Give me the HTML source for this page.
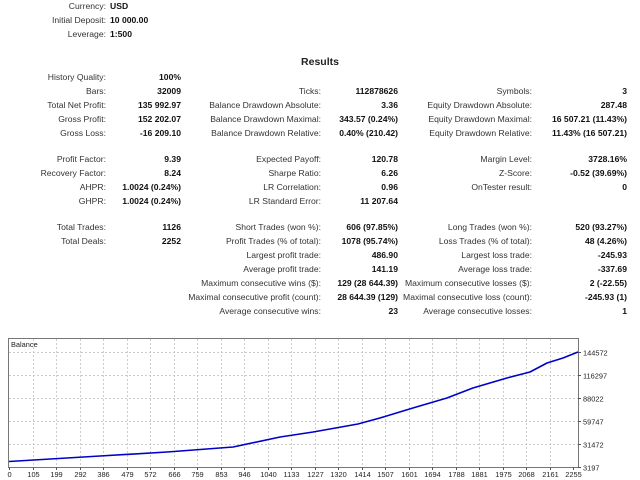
<!DOCTYPE html>
<html><head><meta charset="utf-8">
<style>
body{margin:0;width:640px;height:480px;background:#fff;font-family:"Liberation Sans",sans-serif;font-size:8.6px;color:#222;position:relative;overflow:hidden}
.l{position:absolute;text-align:right;white-space:nowrap;color:#333}
.v{position:absolute;text-align:right;white-space:nowrap;font-weight:bold;color:#111}
.vl{position:absolute;text-align:left;white-space:nowrap;font-weight:bold;color:#111}
#title{position:absolute;left:0;width:640px;top:56px;text-align:center;font-weight:bold;font-size:10.5px}
svg text{font-family:"Liberation Sans",sans-serif;font-size:7.4px;fill:#222}
</style></head><body>
<div id="title">Results</div>
<div id="rows"></div>
<svg id="chart" width="640" height="480" style="position:absolute;left:0;top:0"></svg>
<script>
const head=[["Currency:","USD"],["Initial Deposit:","10 000.00"],["Leverage:","1:500"]];
const headY=[7,21,35];
const rows=[
[78,"History Quality:","100%","","","",""],
[92,"Bars:","32009","Ticks:","112878626","Symbols:","3"],
[106,"Total Net Profit:","135 992.97","Balance Drawdown Absolute:","3.36","Equity Drawdown Absolute:","287.48"],
[120,"Gross Profit:","152 202.07","Balance Drawdown Maximal:","343.57 (0.24%)","Equity Drawdown Maximal:","16 507.21 (11.43%)"],
[134,"Gross Loss:","-16 209.10","Balance Drawdown Relative:","0.40% (210.42)","Equity Drawdown Relative:","11.43% (16 507.21)"],
[160,"Profit Factor:","9.39","Expected Payoff:","120.78","Margin Level:","3728.16%"],
[174,"Recovery Factor:","8.24","Sharpe Ratio:","6.26","Z-Score:","-0.52 (39.69%)"],
[188,"AHPR:","1.0024 (0.24%)","LR Correlation:","0.96","OnTester result:","0"],
[202,"GHPR:","1.0024 (0.24%)","LR Standard Error:","11 207.64","",""],
[228,"Total Trades:","1126","Short Trades (won %):","606 (97.85%)","Long Trades (won %):","520 (93.27%)"],
[242,"Total Deals:","2252","Profit Trades (% of total):","1078 (95.74%)","Loss Trades (% of total):","48 (4.26%)"],
[256,"","","Largest profit trade:","486.90","Largest loss trade:","-245.93"],
[270,"","","Average profit trade:","141.19","Average loss trade:","-337.69"],
[284,"","","Maximum consecutive wins ($):","129 (28 644.39)","Maximum consecutive losses ($):","2 (-22.55)"],
[298,"","","Maximal consecutive profit (count):","28 644.39 (129)","Maximal consecutive loss (count):","-245.93 (1)"],
[312,"","","Average consecutive wins:","23","Average consecutive losses:","1"]];
const cont=document.getElementById('rows');
function put(cls,txt,x,y,name){
  const d=document.createElement('div');
  d.className=cls;d.textContent=txt;
  d.style.top=(y-6)+'px';
  if(cls==='vl'){d.style.left=x+'px';}else{d.style.right=(640-x)+'px';}
  
  
  cont.appendChild(d);
}
head.forEach((h,i)=>{put('l',h[0],106,headY[i],'header-label');put('vl',h[1],110,headY[i],'header-value');});
const lx=[106,321,532], vx=[181,398,627];
rows.forEach(r=>{for(let c=0;c<3;c++){if(r[1+2*c]){put('l',r[1+2*c],lx[c],r[0],'stat-label');put('v',r[2+2*c],vx[c],r[0],'stat-value');}}});

// chart data
const tradeIdx=[0,364,632,896,1084,1216,1395,1483,1615,1751,1855,1991,2083,2151,2215,2275];
const balance=[10000,16720,21640,27780,40070,46220,56060,63430,75730,88020,100310,112600,120000,131050,137200,144572];
const xTicks=["0","105","199","292","386","479","572","666","759","853","946","1040","1133","1227","1320","1414","1507","1601","1694","1788","1881","1975","2068","2161","2255"];
const yTicks=[3197,31472,59747,88022,116297,144572];
const NS="http://www.w3.org/2000/svg",svg=document.getElementById('chart');
const L=8,R=578,T=338,B=467;
const xs=v=>9+v*0.2501;
const ys=v=>467-(v-3197)/1229.35;
function el(t,a){const e=document.createElementNS(NS,t);for(const k in a)e.setAttribute(k,a[k]);svg.appendChild(e);return e;}
let f=el('rect',{x:L+.5,y:T+.5,width:R-L,height:B-T,fill:'#fff',stroke:'#777'});

xTicks.forEach((t,i)=>{const x=Math.round(9+i*23.5)+.5;
 if(i>0&&i<24){const g=el('line',{x1:x,x2:x,y1:T+1,y2:B,stroke:'#ccc','stroke-dasharray':'2,2'});}
 el('line',{x1:x,x2:x,y1:B,y2:B+3,stroke:'#555'});
 const tx=el('text',{x:x,y:477,'text-anchor':'middle'});tx.textContent=t;
 });
yTicks.forEach(v=>{const y=Math.round(ys(v))+.5;
 if(v!==3197){const g=el('line',{x1:L+1,x2:R,y1:y,y2:y,stroke:'#ccc','stroke-dasharray':'2,2'});}
 el('line',{x1:R,x2:R+3,y1:y,y2:y,stroke:'#555'});
 const tx=el('text',{x:583,y:y+3});tx.textContent=v;
 });
const lab=el('text',{x:11,y:347});lab.textContent='Balance';

const p=el('polyline',{points:tradeIdx.map((t,i)=>xs(t).toFixed(1)+','+ys(balance[i]).toFixed(1)).join(' '),fill:'none',stroke:'#0000c8','stroke-width':1.6,'stroke-linejoin':'round'});

</script>
</body></html>
